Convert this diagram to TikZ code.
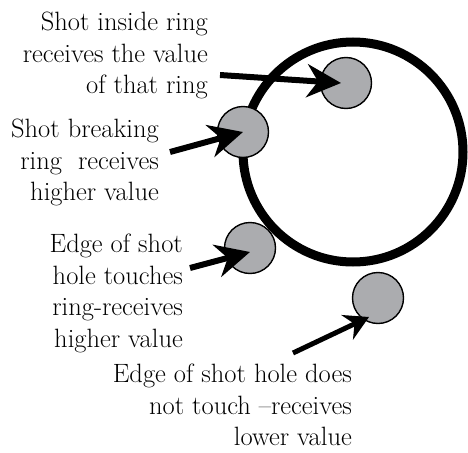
\documentclass[tikz,border=0pt]{standalone}
\usepackage{fontspec}
\usetikzlibrary{arrows.meta,positioning}
\definecolor{shot}{HTML}{ABACAF}
\tikzset{
  ring/.style={draw, circle, line width=9pt, minimum size=220pt, inner sep=0pt},
  hole/.style={draw, circle, fill=shot, line width=1.4pt, minimum size=51pt, inner sep=0pt},
  note/.style={align=right, inner sep=0pt,
    font=\rmfamily\fontsize{26.5}{31.5}\selectfont\addfontfeatures{FakeBold=0.6}},
  arrow/.style={-{Stealth[length=34pt, width=33pt, inset=11pt]}, line width=6pt},
  smallarrow/.style={-{Stealth[length=24pt, width=27pt, inset=8pt]}, line width=5pt}
}
\begin{document}
\begin{tikzpicture}[x=1pt, y=-1pt]
  \useasboundingbox (0,0) rectangle (468,452);
  \node[ring] (ring) at (353,152) {};
  \node[hole] (s1) at (346,83) {};
  \node[hole] (s2) at (243,132) {};
  \node[hole] (s3) at (250,248) {};
  \node[hole] (s4) at (378,298) {};
  \node[note, anchor=north east] (t1) at (208,12) {Shot inside ring\\receives the value\\of that ring};
  \node[note, anchor=north east] (t2) at (159,119) {Shot breaking\\ring\ \ receives\\higher value};
  \node[note, anchor=north east] (t3) at (183,234) {Edge of shot\\hole touches\\ring-receives\\higher value};
  \node[note, anchor=north east] (t4) at (352,364) {Edge of shot hole does\\not touch --receives\\lower value};
  \coordinate (a1) at (220,75);
  \coordinate (a2) at (170,152);
  \coordinate (a3) at (190,268);
  \coordinate (a4) at (293,353);
  \draw[arrow] (a1) -- ([xshift=-5pt]s1.center);
  \draw[arrow] (a2) -- (s2.center);
  \draw[arrow] (a3) -- ([shift={(0,4)}]s3.center);
  \draw[smallarrow] (a4) -- ([shift={(-9,19)}]s4.center);
\end{tikzpicture}
\end{document}
